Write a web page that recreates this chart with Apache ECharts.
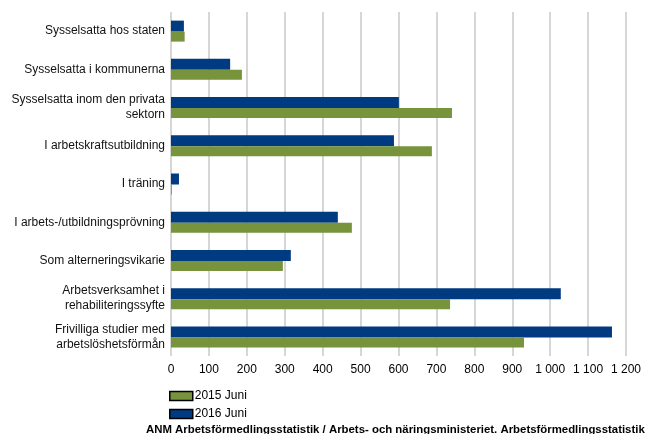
<!DOCTYPE html>
<html>
<head>
<meta charset="utf-8">
<script src="https://cdn.jsdelivr.net/npm/echarts@6/dist/echarts.min.js"></script>
<style>
  html, body { margin: 0; padding: 0; background: #fff; }
  #chart { width: 645px; height: 434px; }
</style>
</head>
<body>
<div id="chart"></div>
<script>
// kategorier uppifrån och ned
const categories = [
  'Sysselsatta hos staten',
  'Sysselsatta i kommunerna',
  'Sysselsatta inom den privata\nsektorn',
  'I arbetskraftsutbildning',
  'I träning',
  'I arbets-/utbildningsprövning',
  'Som alterneringsvikarie',
  'Arbetsverksamhet i\nrehabiliteringssyfte',
  'Frivilliga studier med\narbetslöshetsförmån'
]
const values2015 = [36, 187, 741, 688, 2, 477, 295, 736, 931]
const values2016 = [34, 156, 601, 588, 21, 440, 316, 1028, 1163]
const xTicks = [0, 100, 200, 300, 400, 500, 600, 700, 800, 900, 1000, 1100, 1200]
const footnote = 'ANM Arbetsförmedlingsstatistik / Arbets- och näringsministeriet. Arbetsförmedlingsstatistik'

const chart = echarts.init(document.getElementById('chart'), null, { renderer: 'canvas' })

const option = {
  animation: false,
  textStyle: { fontFamily: 'Liberation Sans, Arial, sans-serif' },
  title: {
    text: footnote,
    left: 146,
    top: 424,
    padding: 0,
    textStyle: { fontSize: 11.4, fontWeight: 'bold', color: '#000' }
  },
  legend: {
    data: ['2015 Juni', '2016 Juni'],
    orient: 'vertical',
    left: 169,
    top: 390,
    padding: 0,
    itemWidth: 23,
    itemHeight: 9,
    itemGap: 6,
    icon: 'rect',
    textStyle: { fontSize: 12, color: '#000', padding: [0, 0, 0, -3] },
    itemStyle: { borderColor: '#000', borderWidth: 1.5 }
  },
  grid: {
    left: 171,
    right: 19,
    top: 12,
    bottom: 78,
    containLabel: false
  },
  xAxis: {
    type: 'value',
    min: xTicks[0],
    max: xTicks[xTicks.length - 1],
    interval: 100,
    axisLine: { show: false },
    axisTick: { show: false },
    splitLine: { lineStyle: { color: '#c8c8c8', width: 1.5 } },
    axisLabel: {
      fontSize: 12,
      color: '#000',
      margin: 8,
      formatter: (v) => v >= 1000 ? Math.floor(v / 1000) + ' ' + String(v % 1000).padStart(3, '0') : String(v)
    }
  },
  yAxis: {
    type: 'category',
    inverse: true,
    data: categories,
    axisLine: { show: false },
    axisTick: { show: false },
    axisLabel: {
      fontSize: 12,
      color: '#111',
      margin: 6,
      lineHeight: 15,
      align: 'right'
    }
  },
  series: [
    {
      name: '2016 Juni',
      type: 'bar',
      data: values2016,
      barWidth: 11,
      barGap: '0%',
      barCategoryGap: '40%',
      itemStyle: { color: '#003A80' }
    },
    {
      name: '2015 Juni',
      type: 'bar',
      data: values2015,
      barWidth: 10,
      itemStyle: { color: '#77933C' }
    }
  ]
}
chart.setOption(option)
</script>
</body>
</html>
